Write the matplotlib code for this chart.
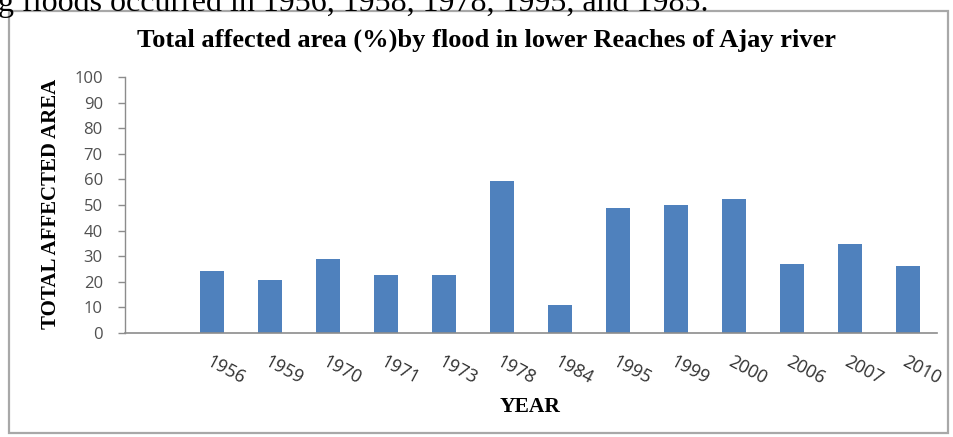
import numpy as np
import matplotlib
matplotlib.use("Agg")
import matplotlib.pyplot as plt
from matplotlib.patches import Rectangle

# flood-affected area (%) in the lower reaches of the Ajay river
years = ["1956", "1959", "1970", "1971", "1973", "1978", "1984",
         "1995", "1999", "2000", "2006", "2007", "2010"]
affected = [24.3, 20.6, 28.7, 22.6, 22.6, 59.3, 10.8,
            48.7, 49.9, 52.5, 26.9, 34.6, 26.1]
y_ticks = list(range(0, 101, 10))

W, H = 954, 437
fig = plt.figure(figsize=(W / 100, H / 100), dpi=100)
fig.patch.set_facecolor("white")

def fx(px):
    return px / W

def fy(py):
    return 1 - py / H

# chart frame
fig.patches.append(Rectangle((fx(9), fy(433)), fx(948) - fx(9), fy(11) - fy(433),
                             transform=fig.transFigure, fill=False,
                             edgecolor="#a8a8a8", linewidth=1.6))

# running text of the page above the chart (clipped by the page edge)
fig.text(fx(-2), fy(11), "g floods occurred in 1956, 1958, 1978, 1995, and 1985.",
         family="Liberation Serif", fontsize=23, color="black", va="baseline", ha="left")

ax = fig.add_axes([fx(125), fy(332.7), fx(937) - fx(125), fy(77.3) - fy(332.7)])

# first category slot is left empty
pos = np.arange(1, len(years) + 1)
ax.bar(pos, affected, width=0.4, color="#4F81BD")
ax.set_xlim(-0.5, len(years) + 0.5)
ax.set_ylim(0, 100)

ax.set_yticks(y_ticks)
ax.tick_params(axis="y", direction="out", length=5, width=1, color="#8c8c8c",
               labelsize=12, labelcolor="#505050", pad=11)
for lab in ax.get_yticklabels():
    lab.set_family("Open Sans")

ax.set_xticks(pos)
ax.set_xticklabels(years, rotation=-28, ha="left", va="top",
                   rotation_mode="anchor", family="Open Sans",
                   fontsize=13, color="#303030")
ax.tick_params(axis="x", length=0, pad=14)

for side in ["top", "right"]:
    ax.spines[side].set_visible(False)
ax.spines["left"].set_color("#8c8c8c")
ax.spines["bottom"].set_color("#8c8c8c")
ax.spines["left"].set_linewidth(1)
ax.spines["bottom"].set_linewidth(1.2)

fig.text(fx(487), fy(40), "Total affected area (%)by flood in lower Reaches of Ajay river",
         family="Liberation Serif", weight="bold", fontsize=19, ha="center", va="center")
fig.text(fx(51), fy(204), "TOTAL AFFECTED AREA", family="Liberation Serif",
         weight="bold", fontsize=15, rotation=90, ha="center", va="center")
fig.text(fx(530), fy(407), "YEAR", family="Liberation Serif", weight="bold",
         fontsize=15.5, ha="center", va="center")

fig.savefig("out.png", dpi=100)
